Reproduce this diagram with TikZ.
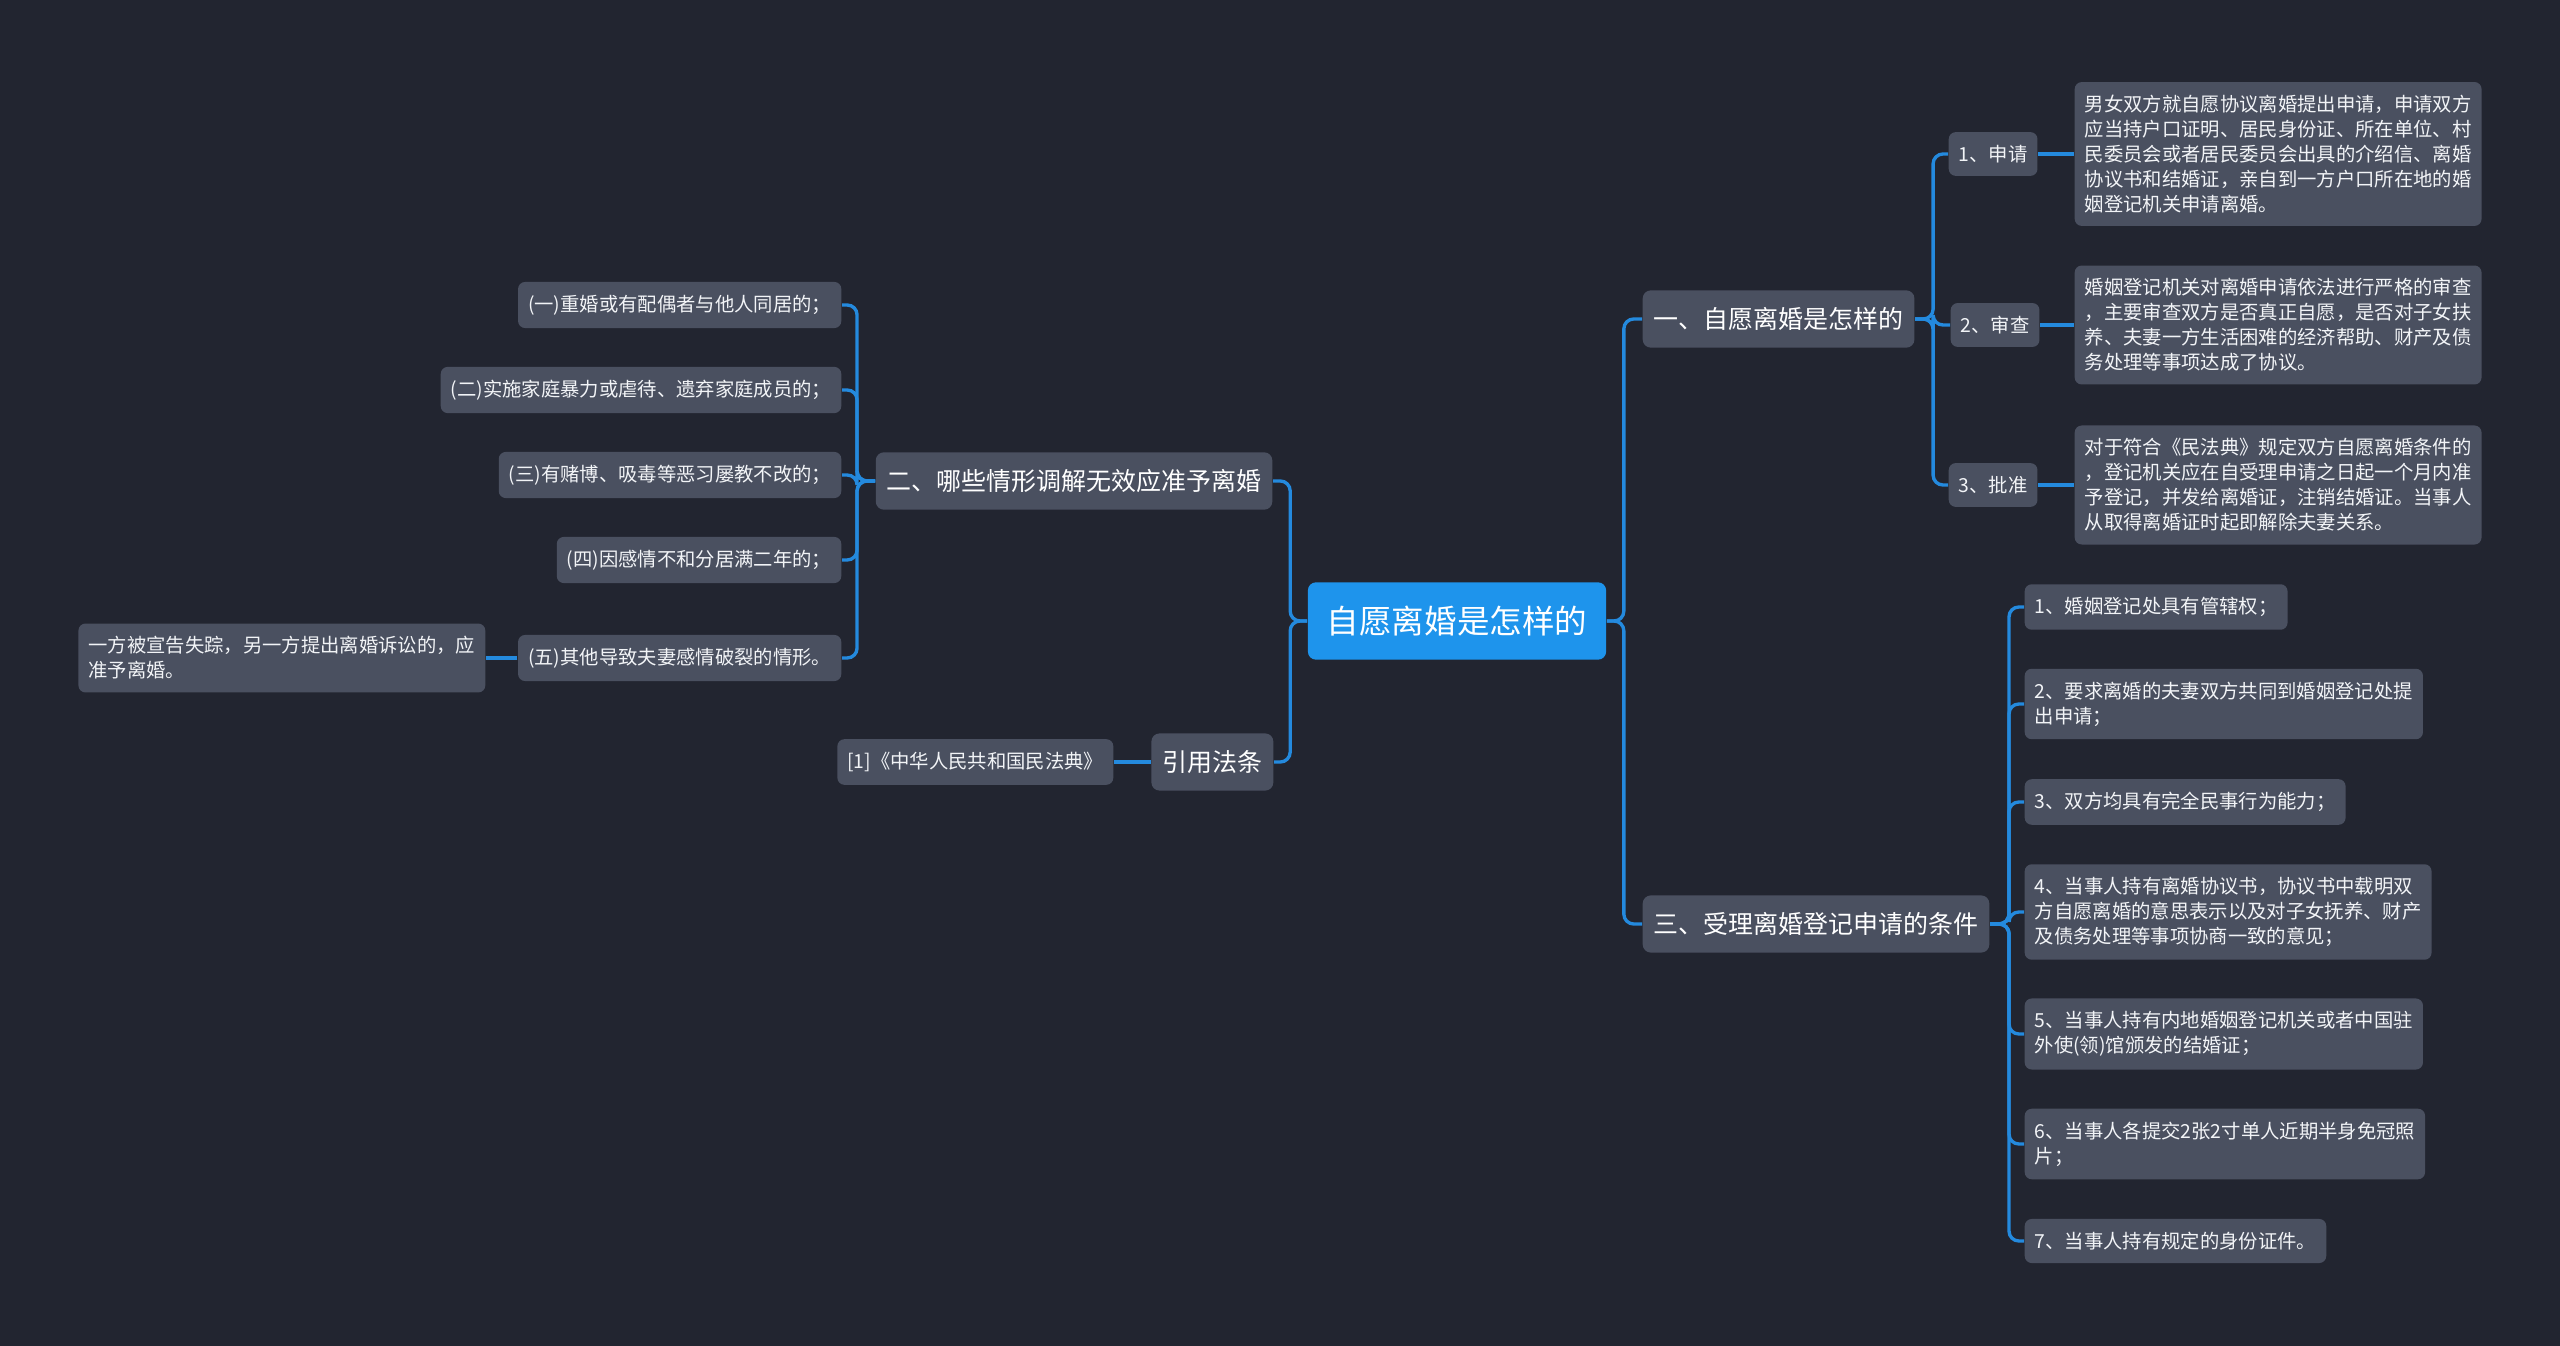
\documentclass[tikz,border=0pt]{standalone}
\usepackage{fontspec}
\newfontfamily\cjk{Noto Sans CJK SC}
\usepackage{tikz}
\definecolor{bgnavy}{RGB}{34,37,48}
\definecolor{boxgray}{RGB}{74,80,96}
\definecolor{rootblue}{RGB}{30,148,236}
\definecolor{linkblue}{RGB}{36,138,222}
\definecolor{txtwhite}{RGB}{242,244,247}

\begin{document}
\begin{tikzpicture}[x=0.01cm, y=-0.01cm,
    rootbox/.style={fill=rootblue, rounded corners=2.3pt, text=white, font={\cjk\fontsize{9.25pt}{11pt}\selectfont}, inner xsep=0.19cm, inner ysep=0.235cm},
    branchbox/.style={fill=boxgray, rounded corners=2.3pt, text=white, font={\cjk\fontsize{7.1pt}{9pt}\selectfont}, inner xsep=0.11cm, inner ysep=0.17cm},
    leafbox/.style={fill=boxgray, rounded corners=2pt, text=txtwhite, font={\cjk\fontsize{5.5pt}{7.1pt}\selectfont}, align=left, inner xsep=0.1cm, inner ysep=0.13cm},
    link/.style={draw=linkblue, line width=0.95pt, rounded corners=2.8pt}]
    \fill[bgnavy] (0, 0) rectangle (2560, 1346);

    % root and main branches
    \node[rootbox] (root) at (1457, 621) {自愿离婚是怎样的};
    \node[branchbox, anchor=west] (way) at (1642, 319) {一、自愿离婚是怎样的};
    \node[branchbox, anchor=west] (cond) at (1642, 924) {三、受理离婚登记申请的条件};
    \node[branchbox, anchor=east] (grant) at (1273, 481) {二、哪些情形调解无效应准予离婚};
    \node[branchbox, anchor=east] (cite) at (1274, 762) {引用法条};

    % steps
    \node[leafbox, anchor=west] (apply) at (1948, 154) {1、申请};
    \node[leafbox, anchor=west] (review) at (1950, 325) {2、审查};
    \node[leafbox, anchor=west] (approve) at (1948, 485) {3、批准};
    \node[leafbox, anchor=west] (applytxt) at (2074, 154) {男女双方就自愿协议离婚提出申请，申请双方\\应当持户口证明、居民身份证、所在单位、村\\民委员会或者居民委员会出具的介绍信、离婚\\协议书和结婚证，亲自到一方户口所在地的婚\\姻登记机关申请离婚。};
    \node[leafbox, anchor=west] (reviewtxt) at (2074, 325) {婚姻登记机关对离婚申请依法进行严格的审查\\，主要审查双方是否真正自愿，是否对子女扶\\养、夫妻一方生活困难的经济帮助、财产及债\\务处理等事项达成了协议。};
    \node[leafbox, anchor=west] (approvetxt) at (2074, 485) {对于符合《民法典》规定双方自愿离婚条件的\\，登记机关应在自受理申请之日起一个月内准\\予登记，并发给离婚证，注销结婚证。当事人\\从取得离婚证时起即解除夫妻关系。};

    % conditions
    \node[leafbox, anchor=west] (c1) at (2024, 607) {1、婚姻登记处具有管辖权；};
    \node[leafbox, anchor=west] (c2) at (2024, 704) {2、要求离婚的夫妻双方共同到婚姻登记处提\\出申请；};
    \node[leafbox, anchor=west] (c3) at (2024, 802) {3、双方均具有完全民事行为能力；};
    \node[leafbox, anchor=west] (c4) at (2024, 912) {4、当事人持有离婚协议书，协议书中载明双\\方自愿离婚的意思表示以及对子女抚养、财产\\及债务处理等事项协商一致的意见；};
    \node[leafbox, anchor=west] (c5) at (2024, 1034) {5、当事人持有内地婚姻登记机关或者中国驻\\外使(领)馆颁发的结婚证；};
    \node[leafbox, anchor=west] (c6) at (2024, 1144) {6、当事人各提交2张2寸单人近期半身免冠照\\片；};
    \node[leafbox, anchor=west] (c7) at (2024, 1241) {7、当事人持有规定的身份证件。};

    % grounds
    \node[leafbox, anchor=east] (g1) at (842, 305) {(一)重婚或有配偶者与他人同居的；};
    \node[leafbox, anchor=east] (g2) at (842, 390) {(二)实施家庭暴力或虐待、遗弃家庭成员的；};
    \node[leafbox, anchor=east] (g3) at (842, 475) {(三)有赌博、吸毒等恶习屡教不改的；};
    \node[leafbox, anchor=east] (g4) at (842, 560) {(四)因感情不和分居满二年的；};
    \node[leafbox, anchor=east] (g5) at (842, 658) {(五)其他导致夫妻感情破裂的情形。};
    \node[leafbox, anchor=east] (missing) at (486, 658) {一方被宣告失踪，另一方提出离婚诉讼的，应\\准予离婚。};
    \node[leafbox, anchor=east] (law) at (1114, 762) {[1]《中华人民共和国民法典》};

    % connectors
    \draw[link] (root.east) -- ++(17, 0) |- (way.west);
    \draw[link] (root.east) -- ++(17, 0) |- (cond.west);
    \draw[link] (root.west) -- ++(-17, 0) |- (grant.east);
    \draw[link] (root.west) -- ++(-17, 0) |- (cite.east);
    \foreach \s in {apply, review, approve}
        \draw[link] (way.east) -- ++(18, 0) |- (\s.west);
    \draw[link] (apply) -- (applytxt);
    \draw[link] (review) -- (reviewtxt);
    \draw[link] (approve) -- (approvetxt);
    \foreach \c in {c1, c2, c3, c4, c5, c6, c7}
        \draw[link] (cond.east) -- ++(19, 0) |- (\c.west);
    \foreach \g in {g1, g2, g3, g4, g5}
        \draw[link] (grant.west) -- ++(-18, 0) |- (\g.east);
    \draw[link] (g5) -- (missing);
    \draw[link] (cite) -- (law);
\end{tikzpicture}
\end{document}
